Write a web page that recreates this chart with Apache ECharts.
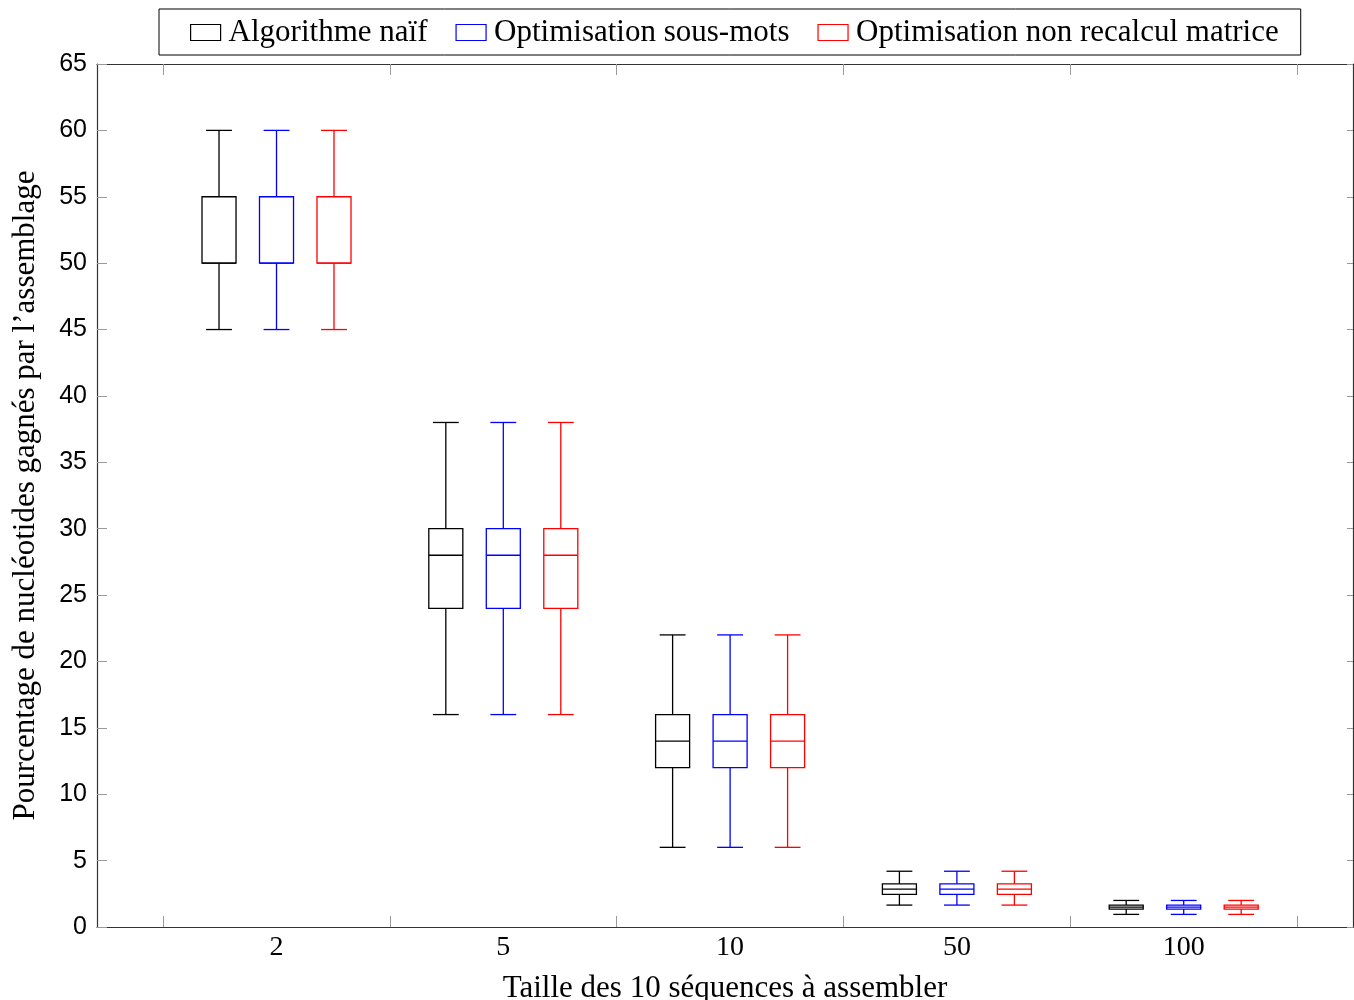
<!DOCTYPE html>
<html>
<head>
<meta charset="utf-8">
<script src="https://cdn.jsdelivr.net/npm/echarts@6/dist/echarts.min.js"></script>
<style>html,body{margin:0;padding:0;background:#fff}#c{width:1354px;height:1000px}</style>
</head>
<body>
<div id="c"></div>
<script>
// ---- data ----
const categories = ['2', '5', '10', '50', '100'];
const seriesNames = ['Algorithme naïf', 'Optimisation sous-mots', 'Optimisation non recalcul matrice'];
const seriesColors = ['#000000', '#0000ff', '#ff0000'];
// [min, q1, median, q3, max] per category
const naif = [
  [45, 50, 50, 55, 60],
  [16, 24, 28, 30, 38],
  [6, 12, 14, 16, 22],
  [1.65, 2.45, 2.85, 3.25, 4.2],
  [0.95, 1.35, 1.5, 1.65, 2.0]
];
const sousMots = [
  [45, 50, 50, 55, 60],
  [16, 24, 28, 30, 38],
  [6, 12, 14, 16, 22],
  [1.65, 2.45, 2.85, 3.25, 4.2],
  [0.95, 1.35, 1.5, 1.65, 2.0]
];
const nonRecalcul = [
  [45, 50, 50, 55, 60],
  [16, 24, 28, 30, 38],
  [6, 12, 14, 16, 22],
  [1.65, 2.45, 2.85, 3.25, 4.2],
  [0.95, 1.35, 1.5, 1.65, 2.0]
];
const yTicks = [0, 5, 10, 15, 20, 25, 30, 35, 40, 45, 50, 55, 60, 65];

const allData = [naif, sousMots, nonRecalcul];
const offsets = [-0.2535, 0, 0.2535];
const boxHalf = 0.075;
const capHalf = 0.057;

function renderBox(params, api) {
  const x = api.value(0);
  const vals = [api.value(1), api.value(2), api.value(3), api.value(4), api.value(5)];
  const color = api.visual('color');
  const pMin = api.coord([x, vals[0]]);
  const pQ1 = api.coord([x, vals[1]]);
  const pMed = api.coord([x, vals[2]]);
  const pQ3 = api.coord([x, vals[3]]);
  const pMax = api.coord([x, vals[4]]);
  const left = api.coord([x - boxHalf, 0])[0];
  const right = api.coord([x + boxHalf, 0])[0];
  const cl = api.coord([x - capHalf, 0])[0];
  const cr = api.coord([x + capHalf, 0])[0];
  const st = { stroke: color, lineWidth: 1.3, fill: null };
  return {
    type: 'group',
    children: [
      { type: 'line', shape: { x1: pMin[0], y1: pMin[1], x2: pQ1[0], y2: pQ1[1] }, style: st },
      { type: 'line', shape: { x1: pQ3[0], y1: pQ3[1], x2: pMax[0], y2: pMax[1] }, style: st },
      { type: 'line', shape: { x1: cl, y1: pMin[1], x2: cr, y2: pMin[1] }, style: st },
      { type: 'line', shape: { x1: cl, y1: pMax[1], x2: cr, y2: pMax[1] }, style: st },
      { type: 'rect', shape: { x: left, y: pQ3[1], width: right - left, height: pQ1[1] - pQ3[1] }, style: { stroke: color, lineWidth: 1.3, fill: 'rgba(0,0,0,0)' } },
      { type: 'line', shape: { x1: left, y1: pMed[1], x2: right, y2: pMed[1] }, style: st }
    ]
  };
}

const series = seriesNames.map((name, si) => ({
  name: name,
  type: 'custom',
  renderItem: renderBox,
  itemStyle: { color: seriesColors[si] },
  encode: { x: 0, y: [1, 2, 3, 4, 5] },
  data: allData[si].map((v, ci) => [ci + 1 + offsets[si]].concat(v)),
  silent: true
}));

const serif = 'Liberation Serif';
const sans = 'Liberation Sans';
const tickStyle = { show: true, inside: true, length: 11, lineStyle: { color: '#999', width: 1 } };
const xTickVals = [0.5, 1.5, 2.5, 3.5, 4.5, 5.5];
const lineSt = { show: true, onZero: false, lineStyle: { color: '#333', width: 1.2 } };

const chart = echarts.init(document.getElementById('c'), null, { renderer: 'canvas' });
chart.setOption({
  animation: false,
  backgroundColor: '#fff',
  legend: {
    left: 159, top: 9,
    padding: [8, 22, 7, 31],
    borderColor: '#000', borderWidth: 1,
    itemWidth: 30, itemHeight: 16, itemGap: 28,
    textStyle: { fontFamily: serif, fontSize: 31, color: '#000', padding: [0, 0, 0, 3], lineHeight: 31 },
    data: seriesNames.map((n, i) => ({
      name: n, icon: 'rect',
      itemStyle: { color: '#fff', borderColor: seriesColors[i], borderWidth: 1.2 }
    }))
  },
  grid: { left: 97, right: 1, top: 64, bottom: 73, containLabel: false, outerBoundsMode: 'none' },
  xAxis: [{
    type: 'value', min: 0.2085, max: 5.7465,
    axisLine: lineSt,
    axisTick: Object.assign({ customValues: xTickVals }, tickStyle),
    splitLine: { show: false },
    axisLabel: {
      customValues: [1, 2, 3, 4, 5],
      formatter: v => categories[Math.round(v) - 1],
      fontFamily: serif, fontSize: 28, color: '#000', margin: 7
    },
    name: 'Taille des 10 séquences à assembler',
    nameLocation: 'middle', nameGap: 46,
    nameTextStyle: { fontFamily: serif, fontSize: 31, color: '#000' }
  }, {
    type: 'value', position: 'top', min: 0.2085, max: 5.7465,
    axisLine: lineSt,
    axisTick: Object.assign({ customValues: xTickVals }, tickStyle),
    axisLabel: { show: false }, splitLine: { show: false }
  }],
  yAxis: [{
    type: 'value', min: 0, max: 65, interval: 5,
    axisLine: lineSt,
    axisTick: Object.assign({ customValues: yTicks }, tickStyle, { length: 10 }),
    splitLine: { show: false },
    axisLabel: { customValues: yTicks, fontFamily: sans, fontSize: 25, color: '#000', margin: 10 },
    name: 'Pourcentage de nucléotides gagnés par l’assemblage',
    nameLocation: 'middle', nameGap: 56,
    nameTextStyle: { fontFamily: serif, fontSize: 31, color: '#000' }
  }, {
    type: 'value', position: 'right', min: 0, max: 65, interval: 5,
    axisLine: lineSt,
    axisTick: Object.assign({ customValues: yTicks }, tickStyle, { length: 6 }),
    axisLabel: { show: false }, splitLine: { show: false }
  }],
  series: series
});
</script>
</body>
</html>
